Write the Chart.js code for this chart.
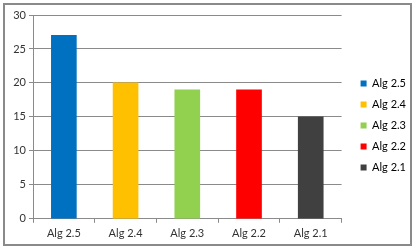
<!DOCTYPE html>
<html>
<head>
<meta charset="utf-8">
<script src="https://cdn.jsdelivr.net/npm/chart.js@4"></script>
<style>
  html, body { margin: 0; padding: 0; background: #fff; }
  #wrap { position: relative; width: 420px; height: 251px; }
</style>
</head>
<body>
<div id="wrap"><canvas id="myChart" width="420" height="251"></canvas></div>
<script>
// chart data
var categories = ["Alg 2.5", "Alg 2.4", "Alg 2.3", "Alg 2.2", "Alg 2.1"];
var values = [27, 20, 19, 19, 15];
var barColors = ['#0070C0', '#FFC000', '#92D050', '#FF0000', '#404040'];

// gray frame around the whole chart, and nudge the legend into place
var framePlugin = {
    id: 'frame',
    afterLayout: function (chart) {
        if (chart.legend) {
            chart.legend.left += 9;
            chart.legend.right += 9;
            chart.legend.top -= 4;
            chart.legend.bottom -= 4;
        }
    },
    beforeDraw: function (chart) {
        var c = chart.ctx;
        c.save();
        c.fillStyle = '#fff';
        c.fillRect(0, 0, chart.width, chart.height);
        c.strokeStyle = '#8a8a8a';
        c.lineWidth = 2;
        c.strokeRect(4, 4, 407, 241);
        c.restore();
    }
};

Chart.defaults.font.family = 'Lato, "Open Sans", sans-serif';
Chart.defaults.font.size = 11;
Chart.defaults.color = '#333';

var ctx = document.getElementById("myChart").getContext('2d');
var myChart = new Chart(ctx, {
    type: 'bar',
    plugins: [framePlugin],
    data: {
        labels: categories,
        datasets: [{
            label: 'Alg',
            data: values,
            backgroundColor: barColors,
            borderWidth: 0,
            barThickness: 25
        }]
    },
    options: {
        responsive: false,
        animation: false,
        layout: {
            padding: { left: 6, top: 15, right: 13, bottom: 7 }
        },
        plugins: {
            tooltip: { enabled: false },
            legend: {
                display: true,
                position: 'right',
                labels: {
                    boxWidth: 6,
                    boxHeight: 6,
                    padding: 10,
                    font: { size: 11 },
                    generateLabels: function (chart) {
                        return categories.map(function (c, i) {
                            return {
                                text: c,
                                fillStyle: barColors[i],
                                strokeStyle: barColors[i],
                                lineWidth: 0,
                                index: i
                            };
                        });
                    }
                }
            }
        },
        scales: {
            x: {
                grid: {
                    drawOnChartArea: false,
                    drawTicks: true,
                    tickLength: 4,
                    color: '#8a8a8a'
                },
                border: { color: '#8a8a8a' },
                ticks: { padding: 4 }
            },
            y: {
                min: 0,
                max: 30,
                ticks: { stepSize: 5, padding: 3 },
                grid: {
                    color: '#8a8a8a',
                    tickLength: 4
                },
                border: { color: '#8a8a8a' },
                afterFit: function (scale) { scale.width = 27; }
            }
        }
    }
});
</script>
</body>
</html>
